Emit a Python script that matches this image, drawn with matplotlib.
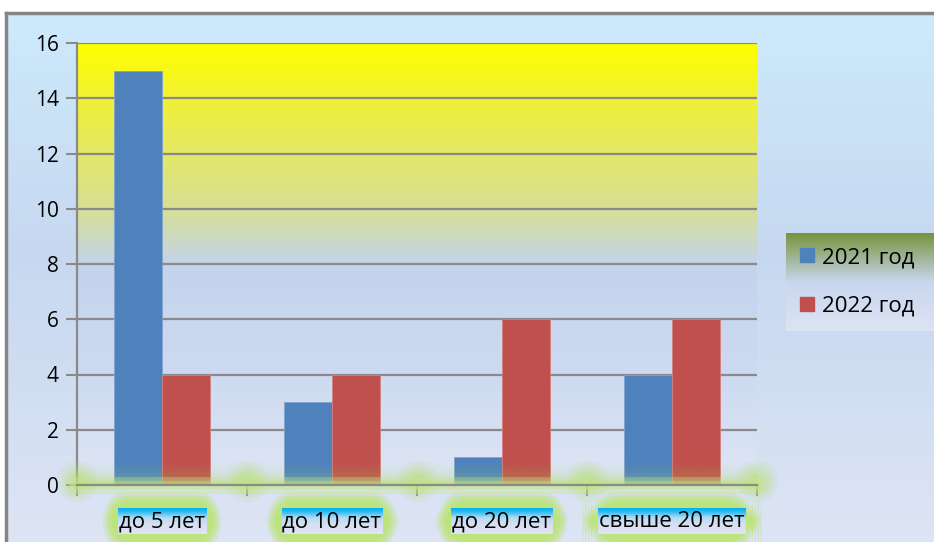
import numpy as np
import matplotlib
matplotlib.use("Agg")
import matplotlib.pyplot as plt
from matplotlib.colors import to_rgb
import matplotlib.patheffects as pe
from matplotlib.patches import Patch, FancyBboxPatch

categories = ["до 5 лет", "до 10 лет", "до 20 лет", "свыше 20 лет"]
series_names = ["2021 год", "2022 год"]
values_2021 = [15, 3, 1, 4]
values_2022 = [4, 4, 6, 6]
yticks = [0, 2, 4, 6, 8, 10, 12, 14, 16]

W, H = 934, 542
plt.rcParams['font.family'] = ['Open Sans', 'DejaVu Sans']
fig = plt.figure(figsize=(W/100, H/100), dpi=100)
fig.patch.set_facecolor('white')

def px(x0, y0, x1, y1):
    return [x0/W, 1 - y1/H, (x1-x0)/W, (y1-y0)/H]

def vgrad(stops, n=256):
    pos = [s[0] for s in stops]
    cols = np.array([to_rgb(s[1]) for s in stops])
    t = np.linspace(0, 1, n)
    img = np.stack([np.interp(t, pos, cols[:, k]) for k in range(3)], axis=-1)
    return img[:, None, :]

# figure background
bg = fig.add_axes(px(6, 13, W + 5, H + 5), zorder=-10)
bg.imshow(vgrad([(0, '#cdeafb'), (0.45, '#c6d8f0'), (1, '#dee5f4')]),
          aspect='auto', extent=(0, 1, 0, 1), transform=bg.transAxes)
bg.set_xlim(0, 1); bg.set_ylim(0, 1)
for s in bg.spines.values():
    s.set_visible(False)
for s in ['top', 'left']:
    bg.spines[s].set_visible(True)
    bg.spines[s].set_color('#858585')
    bg.spines[s].set_linewidth(2.5)
bg.set_xticks([]); bg.set_yticks([])

# main axes
ax = fig.add_axes(px(77, 43, 757, 485), zorder=0)
ax.patch.set_visible(False)
ax.imshow(vgrad([(0, '#ffff00'), (0.15, '#eeee40'), (0.38, '#d6df98'),
                 (0.5, '#c4d3ec'), (0.75, '#cddaf1'), (1, '#dfe6f5')]),
          aspect='auto', extent=(0, 1, 0, 1), transform=ax.transAxes, zorder=0)

x = np.arange(len(categories))
bw = 0.284
ax.bar(x - bw/2, values_2021, bw, color='#4f81bd', edgecolor='#7fa3d0', linewidth=0.6,
       zorder=3, label=series_names[0])
ax.bar(x + bw/2, values_2022, bw, color='#c0504d', edgecolor='#d47f7d', linewidth=0.6,
       zorder=3, label=series_names[1])

ax.set_xlim(-0.5, len(categories) - 0.5)
ax.set_ylim(0, 16)
ax.set_yticks(yticks)
ax.set_yticklabels([str(v) for v in yticks], fontsize=15)
ax.yaxis.grid(True, color='#8a8a8a', linewidth=1.6, zorder=1)
ax.set_axisbelow(True)
ax.tick_params(axis='y', length=8, width=1.5, color='#8a8a8a', pad=5)

ax.set_xticks(x)
ax.set_xticklabels(categories, fontsize=16)
ax.tick_params(axis='x', which='major', length=0, pad=19)
ax.set_xticks(np.arange(len(categories) + 1) - 0.5, minor=True)
ax.tick_params(axis='x', which='minor', length=8, width=1.5, color='#8a8a8a')

for s in ['top', 'right']:
    ax.spines[s].set_visible(False)
for s in ['left', 'bottom']:
    ax.spines[s].set_color('#8a8a8a')
    ax.spines[s].set_linewidth(1.6)
ax.spines['bottom'].set_path_effects([pe.Stroke(linewidth=12, foreground='#c8e690', alpha=0.35),
                                      pe.Stroke(linewidth=6, foreground='#c0e47c', alpha=0.4),
                                      pe.Normal()])
ax.spines['bottom'].set_zorder(5)

# green glow overlay over bars near the axis
glow = np.zeros((64, 1, 4))
glow[..., 0], glow[..., 1], glow[..., 2] = to_rgb('#9ccf58')
glow[:, 0, 3] = np.linspace(0.0, 0.6, 64) ** 1.8
ax.imshow(glow, aspect='auto', extent=(0, 1, 0, 0.06), transform=ax.transAxes, zorder=4)

# soft glow blobs at x-axis ticks
for xx in np.arange(len(categories) + 1) - 0.5:
    for ms, a in [(30, 0.12), (24, 0.15), (18, 0.2), (12, 0.25)]:
        ax.plot([xx], [0.15], 'o', ms=ms, color='#b8e070', alpha=a, zorder=4.5,
                clip_on=False, mec='none')

# legend background
lrect = px(786, 233, W, 331)
lax = fig.add_axes(lrect, zorder=-5)
lax.imshow(vgrad([(0, '#77933c'), (0.5, '#c9d6ee'), (1, '#dde4f3')]),
           aspect='auto', extent=(0, 1, 0, 1), transform=lax.transAxes)
lax.axis('off')
handles = [Patch(color='#4f81bd'), Patch(color='#c0504d')]
fig.legend(handles, series_names, loc='center left',
           bbox_to_anchor=(lrect[0] - 0.006, lrect[1] + lrect[3]/2),
           frameon=False, fontsize=16, handlelength=0.6, handleheight=0.6,
           handletextpad=0.35, labelspacing=1.25)

# tick label backgrounds
fig.canvas.draw()
r = fig.canvas.get_renderer()
cyan = vgrad([(0, '#00b0f0'), (0.15, '#30bdf2'), (0.38, '#b4dbf3'), (0.6, '#d6def1'),
              (1, '#dfe4f4')])
for lab in ax.get_xticklabels():
    bb = lab.get_window_extent(r)
    x0, x1 = bb.x0 - 1, bb.x1 + 1
    y0, y1 = bb.y0 - 2, bb.y1 + 3
    for grow, a in [(16, 0.3), (13, 0.45), (10, 0.6), (7, 0.85)]:
        gax = fig.add_axes([(x0 - grow)/W, (y0 - grow)/H, (x1 - x0 + 2*grow)/W,
                            (y1 - y0 + 2*grow)/H], zorder=-4)
        gax.axis('off')
        gax.add_patch(FancyBboxPatch((0, 0), 1, 1, boxstyle='round,pad=0,rounding_size=0.2',
                      transform=gax.transAxes, fc='#bce37a', ec='none', alpha=a,
                      mutation_aspect=(x1 - x0) / (y1 - y0)))
    tax = fig.add_axes([x0/W, y0/H, (x1 - x0)/W, (y1 - y0)/H], zorder=-3)
    tax.imshow(cyan, aspect='auto', extent=(0, 1, 0, 1), transform=tax.transAxes)
    tax.axis('off')

fig.savefig('out.png', dpi=100)
